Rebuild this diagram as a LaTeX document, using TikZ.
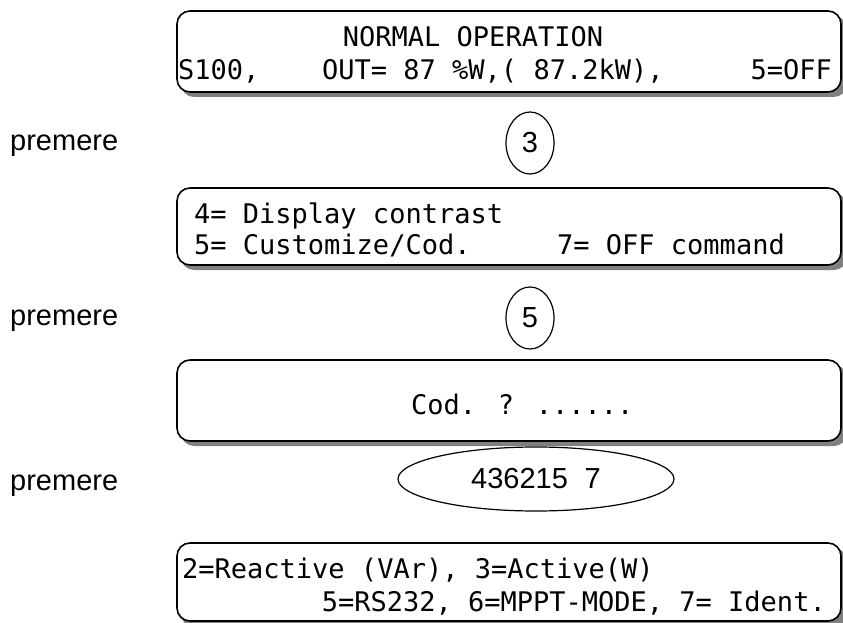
\documentclass[tikz,border=0pt]{standalone}
\usepackage{fontspec}
\setmainfont{Liberation Sans}
\newfontfamily\lcdfont{DejaVu Sans Mono}
\usetikzlibrary{shapes.geometric}
\begin{document}
\begin{tikzpicture}[x=1pt,y=-1pt,
  lcdbox/.style={draw=black,line width=1.6pt,rounded corners=13pt,fill=white},
  lcdshadow/.style={fill=black!50,rounded corners=13pt},
  lcd/.style={font=\lcdfont\fontsize{27}{32}\selectfont,inner sep=0pt,anchor=base west},
  keycap/.style={draw=black,line width=1.2pt,ellipse,inner sep=0pt,font=\fontsize{29}{33}\selectfont},
  lbl/.style={font=\fontsize{29}{33}\selectfont,inner sep=0pt,anchor=base west}]
\useasboundingbox (0,0) rectangle (843,623);
% box 1
\fill[lcdshadow] (181,16) rectangle (847,97);
\draw[lcdbox] (177,11) rectangle (841,92);
\node[lcd,anchor=base] (t1a) at (473,47) {NORMAL OPERATION};
\node[lcd] (t1b) at (178,80) {S100,};
\node[lcd] (t1c) at (322,80) {OUT= 87 \%W,( 87.2kW),};
\node[lcd,anchor=base east] (t1d) at (832,80) {5=OFF};
% key 3
\node[lbl] (p1) at (10,150) {premere};
\node[keycap,minimum width=48pt,minimum height=62pt] (k3) at (530,143) {3};
% box 2
\fill[lcdshadow] (181,193) rectangle (847,270);
\draw[lcdbox] (177,188) rectangle (841,265);
\node[lcd] (t2a) at (194,223) {4= Display contrast};
\node[lcd] (t2b) at (194,254) {5= Customize/Cod.};
\node[lcd] (t2c) at (557,254) {7= OFF command};
% key 5
\node[lbl] (p2) at (10,325) {premere};
\node[keycap,minimum width=48pt,minimum height=62pt] (k5) at (530,318) {5};
% box 3
\fill[lcdshadow] (181,365) rectangle (847,446);
\draw[lcdbox] (177,360) rectangle (841,441);
\node[lcd] (t3) at (411,414) {Cod. ? ......};
% code
\node[lbl] (p3) at (10,490) {premere};
\node[keycap,minimum width=276pt,minimum height=64pt] (kc) at (536,479) {436215\hspace{0.3em} 7};
% box 4
\fill[lcdshadow] (181,548) rectangle (847,627);
\draw[lcdbox] (177,543) rectangle (841,621);
\node[lcd] (t4a) at (182,578) {2=Reactive (VAr), 3=Active(W)};
\node[lcd,anchor=base east] (t4b) at (826,611) {5=RS232, 6=MPPT-MODE, 7= Ident.};
\end{tikzpicture}
\end{document}
